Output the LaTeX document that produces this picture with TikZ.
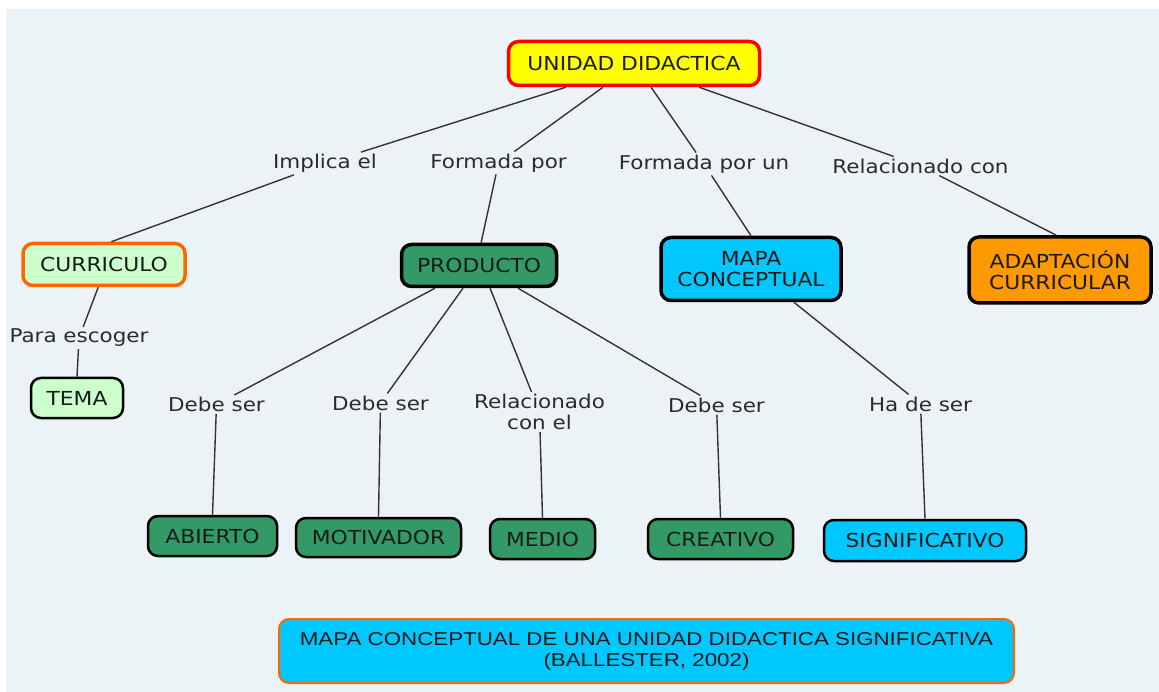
\documentclass[tikz,border=0pt]{standalone}
\usepackage{fontspec}
\setmainfont{DejaVu Sans}[FakeStretch=1.13]
\newfontfamily\capfont{Liberation Sans}[FakeStretch=1.2]
\usetikzlibrary{calc}
\definecolor{bgc}{HTML}{ECF3F6}
\definecolor{txt}{HTML}{1A1A1A}
\definecolor{lbltxt}{HTML}{2B2B2B}
\definecolor{lnc}{HTML}{333333}
\definecolor{yel}{HTML}{FFFF00}
\definecolor{redb}{HTML}{FF0000}
\definecolor{lgreen}{HTML}{CCFFCC}
\definecolor{orab}{HTML}{FF6600}
\definecolor{sea}{HTML}{339966}
\definecolor{cya}{HTML}{00C8FF}
\definecolor{ora}{HTML}{FF9900}
\begin{document}
\begin{tikzpicture}[x=1pt,y=-1pt,
  box/.style={rounded corners=10pt, align=center, inner sep=0pt, text=txt,
    font=\fontsize{19.3}{21}\selectfont},
  bigbox/.style={box, line width=3.5pt},
  smallbox/.style={box, line width=2.5pt, draw=black},
  lbl/.style={inner sep=2pt, text=lbltxt, align=center,
    font=\fontsize{19}{21}\selectfont},
  conn/.style={draw=lnc, line width=1.4pt}]
\useasboundingbox (0,0) rectangle (1159,692);
\fill[white] (0,0) rectangle (1159,692);
\fill[bgc] (6,9) rectangle (1159,692);

% concepts
\node[bigbox, draw=redb, fill=yel, minimum width=251pt, minimum height=44pt] (u) at (634,63.5) {UNIDAD DIDACTICA};
\node[bigbox, draw=orab, fill=lgreen, minimum width=162pt, minimum height=42pt] (cur) at (104,264.5) {CURRICULO};
\node[bigbox, draw=black, fill=sea, minimum width=155pt, minimum height=42pt] (prod) at (479,265.5) {PRODUCTO};
\node[bigbox, draw=black, fill=cya, minimum width=180pt, minimum height=63pt] (mapa) at (751,269) {MAPA\\CONCEPTUAL};
\node[bigbox, draw=black, fill=ora, minimum width=182pt, minimum height=66pt] (adapt) at (1060,270) {ADAPTACIÓN\\CURRICULAR};
\node[smallbox, fill=lgreen, minimum width=92pt, minimum height=40pt] (tema) at (77,398) {TEMA};
\node[smallbox, fill=sea, minimum width=129pt, minimum height=40pt] (abierto) at (212.5,536) {ABIERTO};
\node[smallbox, fill=sea, minimum width=165pt, minimum height=39pt] (motiv) at (378.5,537.5) {MOTIVADOR};
\node[smallbox, fill=sea, minimum width=105pt, minimum height=40pt] (medio) at (542.5,539) {MEDIO};
\node[smallbox, fill=sea, minimum width=145pt, minimum height=40pt] (creat) at (720.5,539) {CREATIVO};
\node[smallbox, fill=cya, minimum width=202pt, minimum height=41pt] (signif) at (925,540.5) {SIGNIFICATIVO};
\node[box, draw=orab, line width=2pt, fill=cya, minimum width=735pt, minimum height=64pt,
  font=\capfont\fontsize{18.6}{21}\selectfont] (cap) at (646.5,651)
  {MAPA CONCEPTUAL DE UNA UNIDAD DIDACTICA SIGNIFICATIVA\\(BALLESTER, 2002)};

% linking phrases
\node[lbl] (l1) at (325,163.5) {Implica el};
\node[lbl] (l2) at (498.5,163) {Formada por};
\node[lbl] (l3) at (704,164) {Formada por un};
\node[lbl] (l4) at (920.5,166) {Relacionado con};
\node[lbl] (l5) at (79,338) {Para escoger};
\node[lbl] (l6) at (216.5,404.5) {Debe ser};
\node[lbl] (l7) at (380.5,403) {Debe ser};
\node[lbl] (l8) at (539.5,412) {Relacionado\\con el};
\node[lbl] (l9) at (716.5,405) {Debe ser};
\node[lbl] (l10) at (920.5,404) {Ha de ser};

% connectors
\draw[conn] ($(u.south west)!0.232!(u.south east)$) -- (l1) -- ($(cur.north west)!0.544!(cur.north east)$);
\draw[conn] ($(u.south west)!0.378!(u.south east)$) -- (l2) -- ($(prod.north west)!0.513!(prod.north east)$);
\draw[conn] ($(u.south west)!0.567!(u.south east)$) -- (l3) -- (mapa.north);
\draw[conn] ($(u.south west)!0.756!(u.south east)$) -- (l4) -- ($(adapt.north west)!0.48!(adapt.north east)$);
\draw[conn] ($(cur.south west)!0.465!(cur.south east)$) -- (l5) -- (tema.north);
\draw[conn] ($(prod.south west)!0.222!(prod.south east)$) -- (l6) -- (abierto.north);
\draw[conn] ($(prod.south west)!0.399!(prod.south east)$) -- (l7) -- (motiv.north);
\draw[conn] ($(prod.south west)!0.570!(prod.south east)$) -- (l8) -- (medio.north);
\draw[conn] ($(prod.south west)!0.747!(prod.south east)$) -- (l9) -- (creat.north);
\draw[conn] ($(mapa.south west)!0.734!(mapa.south east)$) -- (l10) -- (signif.north);
\end{tikzpicture}
\end{document}
